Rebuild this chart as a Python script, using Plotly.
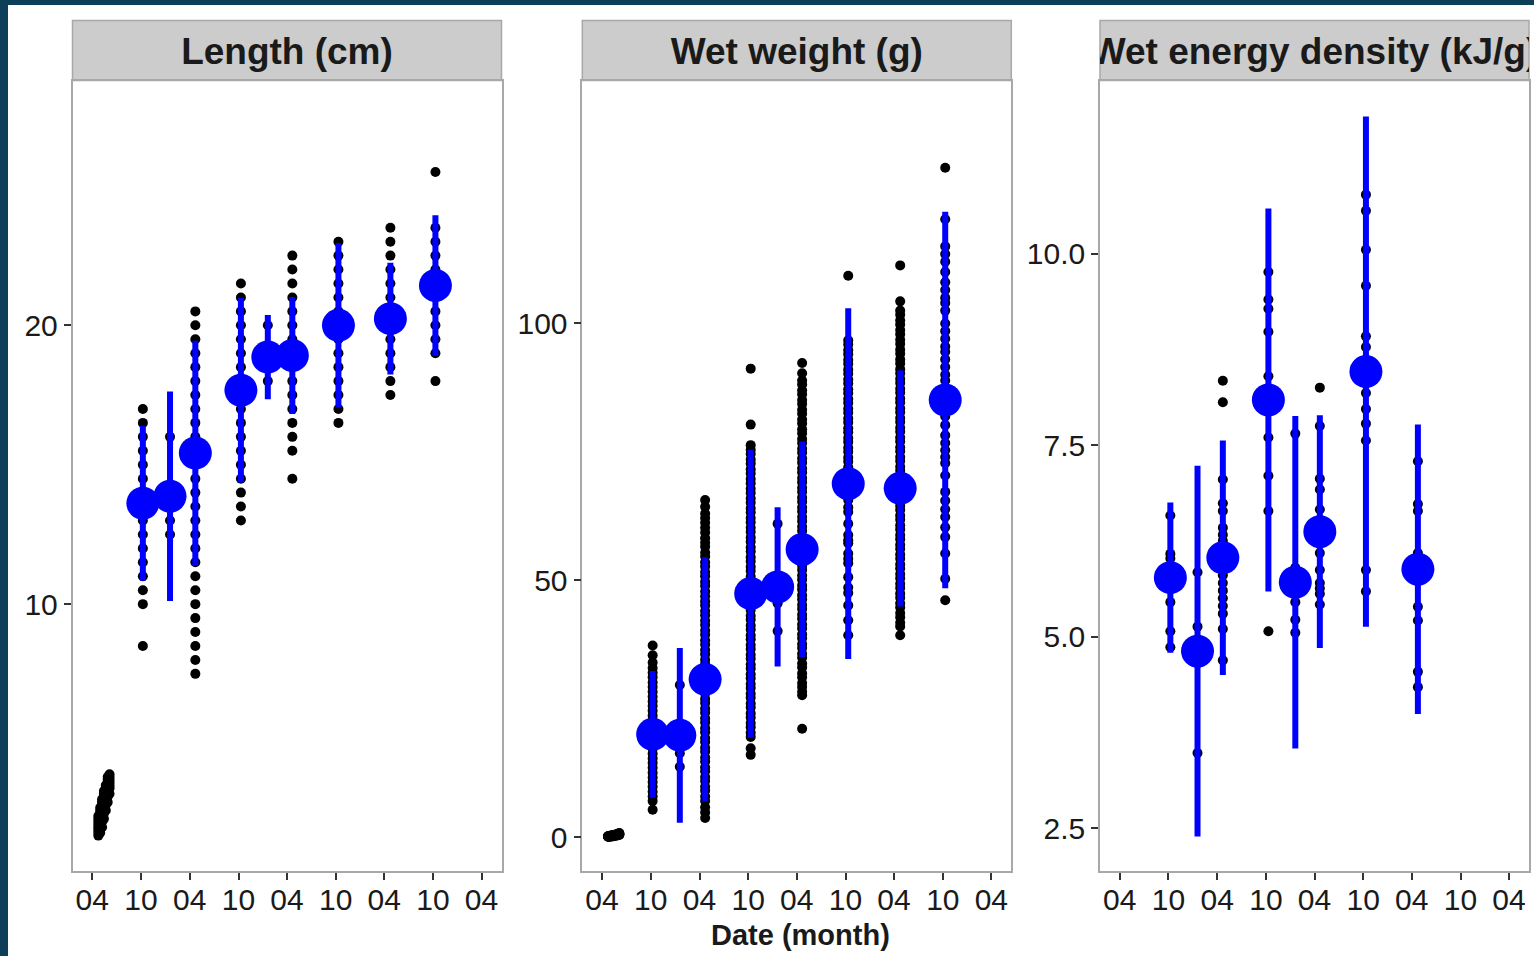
import plotly.graph_objects as go

# ---------------------------------------------------------------------------
# Data
# ---------------------------------------------------------------------------
facet_titles = ["Length (cm)", "Wet weight (g)", "Wet energy density (kJ/g)"]

# juvenile samples (spring of the first year)
juv_dates = ["2011-04-24", "2011-05-01", "2011-05-08", "2011-05-15",
             "2011-05-22", "2011-05-29", "2011-06-05"]
juv_length = [
    [1.7, 1.8, 1.9, 2.0, 2.1, 2.2, 2.3, 2.4],
    [1.8, 1.9, 2.0, 2.2, 2.3, 2.4, 2.5, 2.6, 2.7],
    [2.0, 2.2, 2.3, 2.5, 2.6, 2.7, 2.8, 2.9, 3.0],
    [2.3, 2.5, 2.7, 2.8, 2.9, 3.0, 3.1, 3.2, 3.3],
    [2.6, 2.8, 3.0, 3.1, 3.2, 3.3, 3.4, 3.5],
    [2.9, 3.1, 3.3, 3.4, 3.5, 3.6, 3.7, 3.8],
    [3.2, 3.4, 3.5, 3.6, 3.7, 3.8, 3.9],
]
juv_weight = [
    [0.05, 0.08, 0.10, 0.12, 0.15, 0.18],
    [0.08, 0.12, 0.15, 0.20, 0.24],
    [0.12, 0.18, 0.22, 0.28, 0.33],
    [0.18, 0.25, 0.30, 0.36, 0.42],
    [0.25, 0.32, 0.40, 0.46, 0.52],
    [0.32, 0.40, 0.48, 0.55, 0.62],
    [0.40, 0.50, 0.58, 0.66, 0.78],
]

# sub-adult / adult sampling dates
sample_dates = ["2011-10-08", "2012-01-18", "2012-04-22", "2012-10-10",
                "2013-01-19", "2013-04-21", "2013-10-11", "2014-04-24",
                "2014-10-10"]

length_obs = [
    [17.0, 16.5, 16.0, 15.5, 15.0, 14.5, 14.0, 13.5, 13.0, 12.5, 12.0, 11.5,
     11.0, 10.5, 10.0, 8.5],
    [16.0, 14.0, 13.5, 13.0, 12.5],
    [20.5, 20.0, 19.5, 19.0, 18.5, 18.0, 17.5, 17.0, 16.5, 16.0, 15.5, 15.0,
     14.5, 14.0, 13.5, 13.0, 12.5, 12.0, 11.5, 11.0, 10.5, 10.0, 9.5, 9.0,
     8.5, 8.0, 7.5],
    [21.5, 21.0, 20.5, 20.0, 19.5, 19.0, 18.5, 18.0, 17.5, 17.0, 16.5, 16.0,
     15.5, 15.0, 14.5, 14.0, 13.5, 13.0],
    [20.0, 19.0, 18.5, 18.0],
    [22.5, 22.0, 21.5, 21.0, 20.5, 20.0, 19.5, 19.0, 18.5, 18.0, 17.5, 17.0,
     16.5, 16.0, 15.5, 14.5],
    [23.0, 22.5, 22.0, 21.5, 21.0, 20.5, 20.0, 19.5, 19.0, 18.5, 18.0, 17.5,
     17.0, 16.5],
    [23.5, 23.0, 22.5, 22.0, 21.5, 21.0, 20.5, 20.0, 19.5, 19.0, 18.5, 18.0,
     17.5],
    [25.5, 23.5, 23.0, 22.5, 22.0, 21.5, 21.0, 20.5, 20.0, 19.5, 19.0, 18.0],
]
length_mean = [13.62, 13.87, 15.42, 17.67, 18.86, 18.92, 20.00, 20.24, 21.43]
length_sd = [2.78, 3.76, 4.03, 3.31, 1.51, 2.10, 2.95, 2.00, 2.52]

weight_obs = [
    [37.3, 35.4, 34.0, 32.9, 32.0, 31.1, 30.1, 29.2, 28.3, 27.3, 26.4, 25.5,
     24.6, 23.6, 22.7, 21.8, 20.9, 19.9, 19.0, 18.1, 17.2, 16.2, 15.3, 14.4,
     13.5, 12.5, 11.6, 10.7, 9.8, 8.8, 7.9, 7.0, 5.3],
    [29.6, 22.0, 19.5, 17.5, 16.3, 13.7],
    [65.6, 64.3, 63.0, 62.1, 61.2, 60.2, 59.3, 58.2, 57.3, 56.5, 55.4, 54.6,
     53.5, 52.7, 51.6, 50.8, 49.7, 48.9, 47.8, 46.9, 45.9, 45.1, 44.0, 43.2,
     42.1, 41.3, 40.2, 39.4, 38.3, 37.5, 36.4, 35.6, 34.5, 33.7, 32.6, 31.8,
     30.7, 29.9, 28.8, 28.0, 26.9, 26.1, 25.0, 24.2, 23.1, 22.3, 21.2, 20.4,
     19.3, 18.5, 17.4, 16.6, 15.5, 14.7, 13.6, 12.8, 11.7, 10.9, 9.8, 9.0,
     7.9, 7.0, 5.8, 4.8, 3.7],
    [91.2, 80.3, 76.3, 75.4, 74.6, 73.5, 72.7, 71.6, 70.8, 69.7, 68.9, 67.8,
     67.0, 65.9, 65.1, 64.0, 63.2, 62.1, 61.3, 60.2, 59.4, 58.3, 57.5, 56.4,
     55.6, 54.5, 53.7, 52.6, 51.8, 50.7, 49.9, 48.8, 48.0, 46.9, 46.1, 45.0,
     44.2, 43.1, 42.3, 41.2, 40.4, 39.3, 38.5, 37.4, 36.6, 35.5, 34.7, 33.6,
     32.8, 31.7, 30.9, 29.8, 29.0, 27.9, 27.1, 26.0, 25.2, 24.1, 23.3, 22.2,
     21.4, 20.3, 19.5, 17.3, 16.0],
    [61.0, 50.5, 48.0, 45.5, 40.1],
    [92.3, 90.3, 88.9, 88.1, 87.0, 86.2, 85.1, 84.3, 83.2, 82.4, 81.3, 80.5,
     79.4, 78.6, 77.5, 76.7, 75.6, 74.8, 73.7, 72.9, 71.8, 71.0, 69.9, 69.1,
     68.0, 67.2, 66.1, 65.3, 64.2, 63.4, 62.3, 61.5, 60.4, 59.6, 58.5, 57.7,
     56.6, 55.8, 54.7, 53.9, 52.8, 52.0, 50.9, 50.1, 49.0, 48.2, 47.1, 46.3,
     45.2, 44.4, 43.3, 42.5, 41.4, 40.6, 39.5, 38.7, 37.6, 36.8, 35.7, 34.9,
     33.8, 33.0, 31.9, 31.1, 30.0, 29.2, 28.3, 27.6, 21.1],
    [109.3, 96.7, 95.9, 94.8, 94.0, 92.9, 92.1, 91.0, 90.2, 89.1, 88.3, 87.2,
     86.4, 85.3, 84.5, 83.4, 82.6, 81.5, 80.7, 79.6, 78.8, 77.7, 76.9, 75.8,
     75.0, 73.9, 73.1, 72.0, 70.0, 68.0, 66.5, 65.6, 64.2, 63.3, 61.0, 58.8,
     57.8, 57.2, 55.2, 54.2, 53.3, 50.6, 48.6, 47.5, 45.1, 42.2, 39.3],
    [111.3, 104.3, 102.5, 101.7, 100.6, 99.8, 98.7, 97.9, 96.8, 96.0, 94.9,
     94.1, 93.0, 92.2, 91.1, 90.3, 89.2, 88.4, 87.3, 86.5, 85.4, 84.6, 83.5,
     82.7, 81.6, 80.8, 79.7, 78.9, 77.8, 77.0, 75.9, 75.1, 74.0, 73.2, 72.1,
     71.3, 70.2, 69.4, 68.3, 67.5, 66.4, 65.6, 64.5, 63.7, 62.6, 61.8, 60.7,
     59.9, 58.8, 58.0, 56.9, 56.1, 55.0, 54.2, 53.1, 52.3, 51.2, 50.4, 49.3,
     48.5, 47.4, 46.6, 45.5, 44.7, 43.6, 42.8, 41.7, 41.0, 39.3],
    [130.3, 120.3, 115.0, 113.5, 112.0, 110.0, 108.0, 106.5, 105.0, 104.0,
     102.5, 100.0, 98.5, 97.0, 95.5, 94.5, 93.0, 91.5, 90.0, 88.9, 87.0, 85.0,
     83.0, 81.9, 80.2, 78.2, 76.7, 75.3, 74.0, 72.8, 70.4, 67.2, 65.5, 63.8,
     62.3, 60.3, 58.4, 55.2, 50.3, 46.1],
]
weight_mean = [20.0, 19.8, 30.7, 47.4, 48.7, 56.0, 68.8, 67.9, 85.1]
weight_sd = [12.35, 17.0, 23.8, 28.0, 15.5, 21.0, 34.15, 23.0, 36.65]

energy_dates = sample_dates[:8]
energy_obs = [
    [6.58, 6.08, 6.02, 5.90, 5.77, 5.65, 5.45, 5.07, 4.86],
    [5.84, 5.13, 4.90, 4.75, 3.48],
    [8.34, 8.06, 7.05, 6.74, 6.64, 6.42, 6.33, 6.25, 6.10, 6.00, 5.95, 5.80,
     5.70, 5.60, 5.50, 5.40, 5.30, 5.10, 4.69],
    [9.76, 9.40, 9.28, 8.98, 8.40, 8.20, 7.60, 7.10, 6.64, 5.07],
    [7.65, 5.90, 5.60, 5.45, 5.22, 5.05],
    [8.25, 7.75, 7.06, 6.92, 6.66, 6.45, 6.30, 6.09, 5.87, 5.70, 5.63, 5.56,
     5.42],
    [10.77, 10.56, 10.05, 9.58, 8.92, 8.78, 8.50, 8.18, 7.97, 7.78, 7.56,
     5.87, 5.59],
    [7.29, 6.73, 6.64, 6.09, 5.95, 5.80, 5.39, 5.21, 4.54, 4.34],
]
energy_mean = [5.77, 4.81, 6.03, 8.09, 5.71, 6.37, 8.46, 5.88]
energy_sd = [0.98, 2.42, 1.53, 2.50, 2.17, 1.52, 3.33, 1.89]

month_ticks = ["2011-04-01", "2011-10-01", "2012-04-01", "2012-10-01",
               "2013-04-01", "2013-10-01", "2014-04-01", "2014-10-01",
               "2015-04-01"]
month_labels = ["04", "10", "04", "10", "04", "10", "04", "10", "04"]

y_ticks = [[10, 20], [0, 50, 100], [2.5, 5.0, 7.5, 10.0]]
y_labels = [["10", "20"], ["0", "50", "100"], ["2.5", "5.0", "7.5", "10.0"]]

# ---------------------------------------------------------------------------
# Layout geometry (pixels on a 1534 x 956 page)
# ---------------------------------------------------------------------------
W, H = 1534, 956
panel_x = [(72.5, 501.5), (582.3, 1011.3), (1100.0, 1529.0)]
plot_top, plot_bottom = 80.5, 871.0
strip_top = 20.5
x_range = ["2011-01-17", "2015-06-15"]
y_ranges = [[0.43, 28.78], [-6.61, 147.3], [1.94, 12.26]]

FONT = "Liberation Sans, Arial, Helvetica, sans-serif"
BORDER = "#a8a8a8"
TEXT = "#1a1a1a"


def px_x(v):
    return v / W


def px_y(v):
    return 1 - v / H


def flatten(dates, groups):
    xs, ys = [], []
    for d, vals in zip(dates, groups):
        for v in vals:
            xs.append(d)
            ys.append(v)
    return xs, ys


fig = go.Figure()

facet_points = [
    (juv_dates + sample_dates, juv_length + length_obs),
    (juv_dates + sample_dates, juv_weight + weight_obs),
    (energy_dates, energy_obs),
]
facet_summary = [
    (sample_dates, length_mean, length_sd),
    (sample_dates, weight_mean, weight_sd),
    (energy_dates, energy_mean, energy_sd),
]

for i in range(3):
    sfx = "" if i == 0 else str(i + 1)
    px, py = flatten(*facet_points[i])
    fig.add_trace(go.Scatter(
        x=px, y=py, mode="markers",
        marker=dict(size=10, color="black", line=dict(width=0)),
        xaxis="x" + sfx, yaxis="y" + sfx, hoverinfo="skip", showlegend=False,
    ))
    d, m, s = facet_summary[i]
    fig.add_trace(go.Scatter(
        x=d, y=m, mode="markers",
        marker=dict(size=33, color="#0000ff", line=dict(width=0)),
        error_y=dict(type="data", array=s, visible=True, color="#0000ff",
                     thickness=6, width=0),
        xaxis="x" + sfx, yaxis="y" + sfx, hoverinfo="skip", showlegend=False,
    ))

    # strip label, clipped to its strip box
    ssfx = str(i + 4)
    fig.add_trace(go.Scatter(
        x=[0.5], y=[0.43], mode="text", text=[facet_titles[i]],
        textfont=dict(family=FONT, size=37, color=TEXT, weight="bold"),
        textposition="middle center", cliponaxis=True,
        xaxis="x" + ssfx, yaxis="y" + ssfx, hoverinfo="skip",
        showlegend=False,
    ))

layout = dict(
    width=W, height=H,
    margin=dict(l=0, r=0, t=0, b=0),
    paper_bgcolor="white", plot_bgcolor="white",
    showlegend=False,
    shapes=[],
    annotations=[],
)

for i in range(3):
    sfx = "" if i == 0 else str(i + 1)
    x0, x1 = panel_x[i]
    layout["xaxis" + sfx] = dict(
        domain=[px_x(x0), px_x(x1)], anchor="y" + sfx, type="date",
        range=x_range, tickmode="array", tickvals=month_ticks,
        ticktext=month_labels, ticks="outside", ticklen=7, tickwidth=2,
        tickcolor="#333333", showline=True, mirror=True, linecolor=BORDER,
        linewidth=1.5, showgrid=False, zeroline=False, ticklabelstandoff=-6,
        tickfont=dict(family=FONT, size=30, color=TEXT),
    )
    layout["yaxis" + sfx] = dict(
        domain=[px_y(plot_bottom), px_y(plot_top)], anchor="x" + sfx,
        range=y_ranges[i], tickmode="array", tickvals=y_ticks[i],
        ticktext=y_labels[i], ticks="outside", ticklen=7, tickwidth=2,
        tickcolor="#333333", showline=True, mirror=True, linecolor=BORDER,
        linewidth=1.5, showgrid=False, zeroline=False,
        tickfont=dict(family=FONT, size=30, color=TEXT),
    )
    ssfx = str(i + 4)
    layout["xaxis" + ssfx] = dict(
        domain=[px_x(x0), px_x(x1)], anchor="y" + ssfx, range=[0, 1],
        visible=False, fixedrange=True,
    )
    layout["yaxis" + ssfx] = dict(
        domain=[px_y(plot_top), px_y(strip_top)], anchor="x" + ssfx,
        range=[0, 1], visible=False, fixedrange=True,
    )
    layout["shapes"].append(dict(
        type="rect", xref="x" + ssfx + " domain", yref="y" + ssfx + " domain",
        x0=0, x1=1, y0=0, y1=1, fillcolor="#cccccc",
        line=dict(color=BORDER, width=1.5), layer="below",
    ))

# dark frame along the top and left edges of the page
layout["shapes"].append(dict(
    type="rect", xref="paper", yref="paper", x0=0, x1=px_x(8), y0=0, y1=1,
    fillcolor="#0e3f59", line=dict(width=0), layer="above",
))
layout["shapes"].append(dict(
    type="rect", xref="paper", yref="paper", x0=0, x1=1, y0=px_y(5), y1=1,
    fillcolor="#0e3f59", line=dict(width=0), layer="above",
))

layout["annotations"].append(dict(
    text="<b>Date (month)</b>", xref="paper", yref="paper",
    x=px_x(800.5), y=px_y(935), xanchor="center", yanchor="middle",
    showarrow=False, font=dict(family=FONT, size=29, color=TEXT),
))

fig.update_layout(**layout)
fig.write_html("out.html")
